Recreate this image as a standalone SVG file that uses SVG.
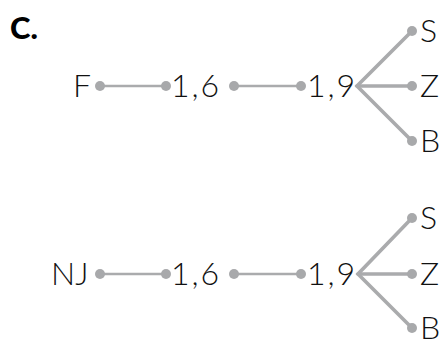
<svg xmlns="http://www.w3.org/2000/svg" width="447" height="345" viewBox="0 0 447 345">
<style>
.t{font-family:Lato,"Liberation Sans",sans-serif;font-size:32px;font-weight:300;letter-spacing:2px;fill:#111}
.n{letter-spacing:0}
.h{font-family:Lato,"Liberation Sans",sans-serif;font-size:31px;font-weight:900;fill:#000}
.c{stroke:#aaabad;stroke-width:2.6;fill:none}
.b{stroke:#aaabad;stroke-width:3.6;fill:none;stroke-linecap:round}
.d{fill:#a8a9ab}
</style>
<rect width="447" height="345" fill="#fff"/>
<text class="h" x="10" y="39">C.</text>
<g id="connectors">
<line class="c" x1="100" y1="86" x2="166" y2="86"/>
<line class="c" x1="234" y1="86" x2="301" y2="86"/>
<polyline class="b" points="412,31 357,86 412,141"/>
<line class="b" x1="357" y1="86" x2="412" y2="86"/>
<line class="c" x1="100" y1="274" x2="166" y2="274"/>
<line class="c" x1="234" y1="274" x2="301" y2="274"/>
<polyline class="b" points="412,218 358,274 412,328"/>
<line class="b" x1="358" y1="274" x2="412" y2="274"/>
</g>
<g id="r1-F"><text class="t n" x="73" y="97">F</text><circle class="d" cx="100" cy="86" r="5"/></g>
<g id="r1-16"><circle class="d" cx="166" cy="86" r="5"/><text class="t" x="171" y="97">1,6</text><circle class="d" cx="234" cy="86" r="5"/></g>
<g id="r1-19"><circle class="d" cx="301" cy="86" r="5"/><text class="t" x="307" y="97">1,9</text></g>
<g id="r1-S"><circle class="d" cx="412" cy="31" r="5"/><text class="t" x="420" y="42">S</text></g>
<g id="r1-Z"><circle class="d" cx="412" cy="86" r="5"/><text class="t" x="420" y="97">Z</text></g>
<g id="r1-B"><circle class="d" cx="412" cy="141" r="5"/><text class="t" x="420" y="152">B</text></g>
<g id="r2-NJ"><text class="t n" x="51" y="285">NJ</text><circle class="d" cx="100" cy="274" r="5"/></g>
<g id="r2-16"><circle class="d" cx="166" cy="274" r="5"/><text class="t" x="171" y="285">1,6</text><circle class="d" cx="234" cy="274" r="5"/></g>
<g id="r2-19"><circle class="d" cx="301" cy="274" r="5"/><text class="t" x="307" y="285">1,9</text></g>
<g id="r2-S"><circle class="d" cx="412" cy="218" r="5"/><text class="t" x="420" y="229">S</text></g>
<g id="r2-Z"><circle class="d" cx="412" cy="274" r="5"/><text class="t" x="420" y="285">Z</text></g>
<g id="r2-B"><circle class="d" cx="412" cy="328" r="5"/><text class="t" x="420" y="339">B</text></g>
</svg>
